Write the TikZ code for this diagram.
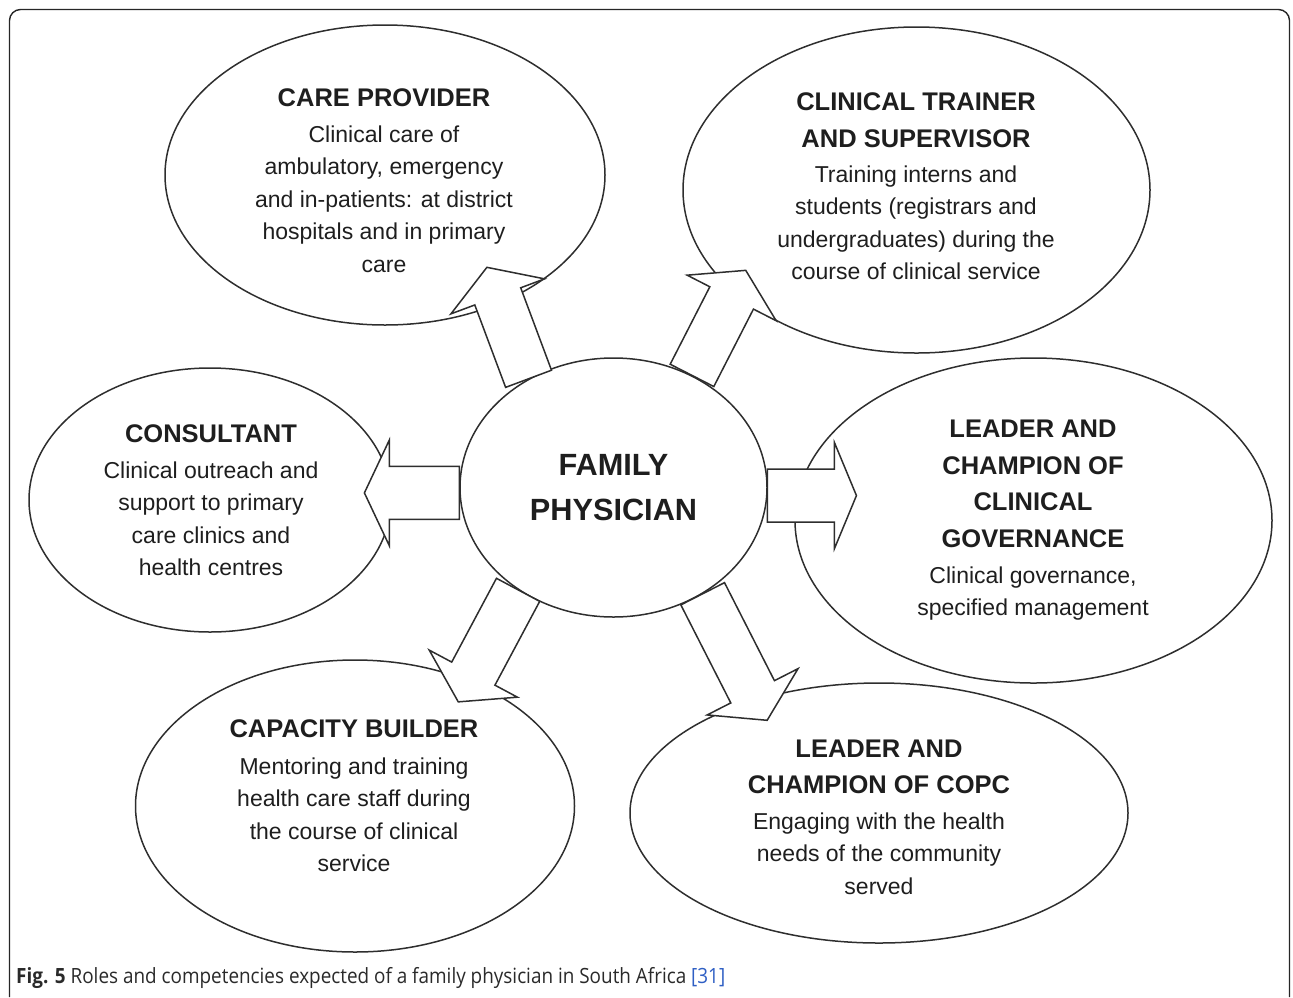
\documentclass[tikz,border=0pt]{standalone}
\usepackage{fontspec}
\setmainfont{Liberation Sans}
\newfontfamily\capfont[FakeStretch=0.9]{Open Sans}
\usetikzlibrary{shapes.geometric}
\definecolor{ink}{HTML}{1E1E1E}
\definecolor{edge}{HTML}{2E2E2E}
\definecolor{capgray}{HTML}{2A2A2A}
\definecolor{reflink}{HTML}{2F5FC4}

% bold heading inside a role bubble
\newcommand\rolehead[1]{{\bfseries\fontsize{25.5}{32.5}\selectfont #1}}
% block arrow: start, angle, shaft length, head length, half shaft width, half head width
\newcommand\blockarrow[6]{%
  \draw[barrow, shift={(#1)}, rotate=#2]
    (0,-#5) -- (#3,-#5) -- (#3,-#6) -- ({#3+#4},0) -- (#3,#6) -- (#3,#5) -- (0,#5) -- cycle;}

\begin{document}
\begin{tikzpicture}[x=1pt,y=-1pt,
  oval/.style={ellipse, draw=edge, line width=1.5pt, inner sep=0pt},
  roletext/.style={align=center, text=ink, font=\fontsize{23}{32.5}\selectfont},
  barrow/.style={draw=edge, fill=white, line width=1.5pt, line join=miter},
  frame/.style={draw=black!85, line width=1.4pt, rounded corners=11pt}]
\useasboundingbox (0,0) rectangle (1293,997);

% outer frame, open at the bottom
\draw[frame] (9.5,997) -- (9.5,9.5) -- (1289.5,9.5) -- (1289.5,997);

% role bubbles
\node[oval, minimum width=440pt, minimum height=300pt] (care) at (385,175) {};
\node[oval, minimum width=467pt, minimum height=326pt] (trainer) at (916.5,190) {};
\node[oval, minimum width=362pt, minimum height=264pt] (consult) at (210,500) {};
\node[oval, minimum width=477pt, minimum height=325pt] (govern) at (1033.5,520.5) {};
\node[oval, minimum width=439pt, minimum height=292pt] (capacity) at (355,806) {};
\node[oval, minimum width=498pt, minimum height=260pt] (copc) at (879,813) {};

% central bubble
\node[oval, minimum width=307pt, minimum height=259pt, align=center, text=ink,
      font=\bfseries\fontsize{30.7}{45}\selectfont] (fp) at (613.5,487.5) {FAMILY\\PHYSICIAN};

% arrow roots on the central bubble
\coordinate (r1) at (fp.128.9);
\coordinate (r2) at (fp.55.1);
\coordinate (r3) at (fp.182.6);
\coordinate (r4) at (fp.357.6);
\coordinate (r5) at (fp.227.6);
\coordinate (r6) at (fp.310.5);

\blockarrow{r1}{110.5}{88}{31}{24.5}{50}
\blockarrow{r2}{62.9}{87}{31}{24.5}{50}
\blockarrow{r3}{180}{70}{25}{26.5}{53}
\blockarrow{r4}{0}{67}{22}{26.5}{53}
\blockarrow{r5}{-118.1}{95}{32}{24.5}{50}
\blockarrow{r6}{-63}{110}{32}{24.5}{51}

% role texts
\node[roletext] (care-t) at (384,180.5) {\rolehead{CARE PROVIDER}\\[3.5pt]
  Clinical care of\\ambulatory, emergency\\and in-patients: at district\\hospitals and in primary\\care};
\node[roletext] (trainer-t) at (916,186) {\rolehead{CLINICAL TRAINER}\\[4.5pt]\rolehead{AND SUPERVISOR}\\[2.5pt]
  Training interns and\\students (registrars and\\undergraduates) during the\\course of clinical service};
\node[roletext] (consult-t) at (211,500) {\rolehead{CONSULTANT}\\[3.5pt]
  Clinical outreach and\\support to primary\\care clinics and\\health centres};
\node[roletext] (govern-t) at (1033,520.5) {\rolehead{LEADER AND}\\[4pt]\rolehead{CHAMPION OF}\\[4pt]\rolehead{CLINICAL}\\[4pt]\rolehead{GOVERNANCE}\\[3.5pt]
  Clinical governance,\\specified management};
\node[roletext] (capacity-t) at (354,795.5) {\rolehead{CAPACITY BUILDER}\\[4.5pt]
  Mentoring and training\\health care staff during\\the course of clinical\\service};
\node[roletext] (copc-t) at (879,817) {\rolehead{LEADER AND}\\[3.5pt]\rolehead{CHAMPION OF COPC}\\[3.5pt]
  Engaging with the health\\needs of the community\\served};

% figure caption
\node[anchor=west, inner sep=0pt, text=capgray, font=\capfont\fontsize{21}{24}\selectfont] (caption) at (16,978)
  {\textbf{Fig. 5} Roles and competencies expected of a family physician in South Africa \textcolor{reflink}{[31]}};
\end{tikzpicture}
\end{document}
